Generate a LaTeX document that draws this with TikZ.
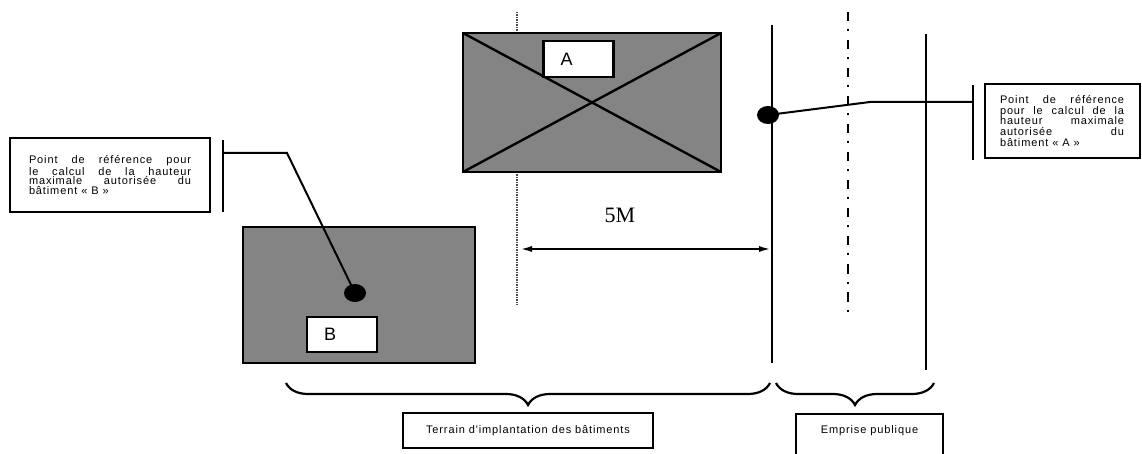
\documentclass[tikz,border=0pt]{standalone}
\usepackage{fontspec}
\setmainfont{Liberation Sans}
\newfontfamily\notefont[LetterSpace=8]{Liberation Sans}
\newfontfamily\cotefont{Liberation Serif}
\usetikzlibrary{arrows.meta,decorations.pathreplacing,shapes.geometric}
\definecolor{batgray}{RGB}{132,132,132}

\begin{document}
\begin{tikzpicture}[x=1pt,y=-1pt,
  building/.style={draw,fill=batgray,line width=2.6pt,outer sep=0pt},
  tag/.style={draw,fill=white,line width=2.2pt,font=\fontsize{18}{18}\selectfont,
    text width=36pt,align=left,inner xsep=17pt,inner ysep=0pt},
  note/.style={draw,line width=2pt,font=\notefont\fontsize{11}{11}\selectfont,inner sep=0pt},
  refbox/.style={note,align=justify},
  dotmark/.style={ellipse,fill=black,inner sep=0pt,minimum width=22pt,minimum height=18pt},
  brace/.style={decorate,decoration={brace,mirror,amplitude=22pt},line width=2.2pt},
  wire/.style={line width=2pt}]
  \clip (0,0) rectangle (1142,454);

  % limites
  \draw[line width=1.8pt,black!70,dash pattern=on 1.2pt off 1.3pt] (517,12) -- (517,305);
  \draw[line width=2.6pt] (772,25) -- (772,363);
  \draw[line width=2.8pt,dash pattern=on 9.5pt off 8pt on 2pt off 8.5pt] (848,12) -- (848,318);
  \draw[line width=2.6pt] (926,34) -- (926,370);

  % batiment A
  \node[building,minimum width=258pt,minimum height=139pt] (batA) at (592,102.5) {};
  \draw[line width=2.4pt] (batA.north west) -- (batA.south east)
                          (batA.south west) -- (batA.north east);
  \node[tag,minimum height=36pt] (tagA) at (578.5,59) {A};

  % batiment B
  \node[building,minimum width=232pt,minimum height=136pt] (batB) at (359,295) {};
  \node[tag,minimum height=35pt] (tagB) at (342,334.5) {B};

  % 5 m
  \coordinate (lim) at (520,249);
  \coordinate (front) at (771,249);
  \draw[wire,{Latex[length=12pt,width=6pt]}-{Latex[length=12pt,width=6pt]}] (lim) -- (front);
  \node[font=\cotefont\fontsize{22}{22}\selectfont] (cote) at (620,215) {5M};

  % point B
  \node[refbox,minimum width=200pt,minimum height=74pt,text width=162pt,
    font=\notefont\fontsize{11}{9.6}\selectfont] (refB) at (110,175)
    {Point de référence pour\linebreak le calcul de la hauteur\linebreak
     maximale autorisée du\linebreak bâtiment «~B~»};
  \coordinate (barB) at (223,153);
  \coordinate (bendB) at (287,153);
  \draw[wire] (223,140) -- (223,212);
  \node[dotmark] (ptB) at (355,293) {};
  \draw[wire] (barB) -- (bendB) -- (ptB.center);

  % point A
  \node[refbox,minimum width=155pt,minimum height=74pt,text width=124pt,
    font=\notefont\fontsize{11}{10.8}\selectfont] (refA) at (1062,121)
    {Point de référence\linebreak pour le calcul de la\linebreak hauteur maximale\linebreak
     autorisée du\linebreak bâtiment «~A~»};
  \coordinate (barA) at (973,102);
  \coordinate (bendA) at (870,102);
  \draw[wire] (973,85) -- (973,160);
  \node[dotmark] (ptA) at (768,115) {};
  \draw[wire] (ptA.center) -- (bendA) -- (barA);

  % accolades
  \draw[brace] (286,383) -- (770,383);
  \draw[brace] (776,383) -- (934,383);
  \node[note,minimum width=250pt,minimum height=35pt] (terrain) at (528,430.5)
    {Terrain d'implantation des bâtiments};
  \node[note,anchor=north,minimum width=147pt,inner ysep=12pt,text height=7pt,
    text depth=30pt] (emprise) at (869.5,413) {Emprise publique};
\end{tikzpicture}
\end{document}
